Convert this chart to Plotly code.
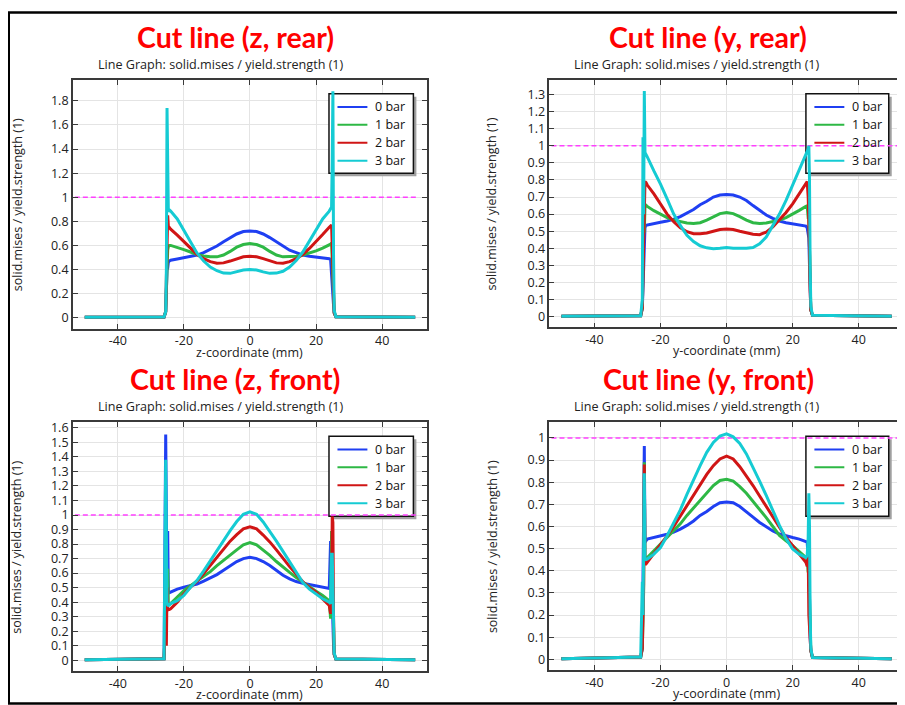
import plotly.graph_objects as go

# page pixel positions below are measured on the 905x705 reference; the browser adds an 8px body margin
OFF = 8
W, H = 905 - OFF, 705 - OFF

# ---------------- data ----------------
X = [-50, -26, -25.5, -25.3, -25.1, -24.9, -24.7, -24.4, -24, -22, -20, -18, -16, -14, -12, -10,
     -8, -6, -4, -2, 0, 2, 4, 6, 8, 10, 12, 14, 16, 18, 20, 22, 24, 24.4, 24.7, 24.9, 25.1, 25.3,
     25.5, 26, 50]

SERIES = ["0 bar", "1 bar", "2 bar", "3 bar"]

# Cut line (z, rear)
zr_0 = [0.003, 0.006, 0.05, 0.25, 0.40, 0.41, 0.46, 0.47, 0.477, 0.487, 0.50, 0.51, 0.52, 0.54, 0.565, 0.595,
        0.63, 0.665, 0.695, 0.715, 0.72, 0.715, 0.695, 0.665, 0.63, 0.59, 0.56, 0.54, 0.52, 0.51, 0.505, 0.497,
        0.49, 0.485, 0.32, 0.32, 0.2, 0.1, 0.04, 0.008, 0.003]
zr_1 = [0.003, 0.006, 0.05, 0.3, 0.55, 0.56, 0.59, 0.60, 0.60, 0.585, 0.565, 0.545, 0.525, 0.512, 0.505, 0.505,
        0.52, 0.55, 0.585, 0.607, 0.615, 0.607, 0.585, 0.55, 0.52, 0.505, 0.505, 0.51, 0.52, 0.535, 0.555, 0.578,
        0.60, 0.61, 0.62, 0.50, 0.35, 0.15, 0.04, 0.008, 0.003]
zr_2 = [0.003, 0.006, 0.05, 0.3, 0.6, 0.85, 0.76, 0.745, 0.735, 0.685, 0.63, 0.575, 0.525, 0.49, 0.465, 0.452,
        0.455, 0.47, 0.49, 0.505, 0.51, 0.505, 0.49, 0.47, 0.455, 0.452, 0.465, 0.49, 0.525, 0.575, 0.63, 0.69,
        0.75, 0.765, 0.77, 0.6, 0.4, 0.15, 0.04, 0.008, 0.003]
zr_3 = [0.003, 0.006, 0.05, 0.4, 1.74, 0.95, 0.88, 0.895, 0.885, 0.82, 0.725, 0.63, 0.535, 0.47, 0.42, 0.39,
        0.37, 0.368, 0.38, 0.395, 0.40, 0.395, 0.38, 0.368, 0.37, 0.385, 0.42, 0.475, 0.545, 0.64, 0.73, 0.82,
        0.885, 0.90, 0.92, 1.3, 1.88, 0.5, 0.06, 0.008, 0.003]

# Cut line (y, rear)
yr_0 = [0.003, 0.006, 0.05, 0.2, 0.35, 0.37, 0.52, 0.535, 0.537, 0.545, 0.553, 0.56, 0.57, 0.585, 0.605, 0.627,
        0.655, 0.675, 0.70, 0.712, 0.715, 0.712, 0.70, 0.68, 0.65, 0.62, 0.595, 0.575, 0.56, 0.55, 0.543, 0.537,
        0.53, 0.52, 0.47, 0.46, 0.3, 0.1, 0.04, 0.008, 0.003]
yr_1 = [0.003, 0.006, 0.05, 0.3, 0.5, 0.5, 0.64, 0.652, 0.645, 0.62, 0.60, 0.58, 0.565, 0.555, 0.548, 0.545,
        0.55, 0.565, 0.585, 0.603, 0.61, 0.603, 0.585, 0.565, 0.55, 0.545, 0.548, 0.555, 0.565, 0.58, 0.60, 0.622,
        0.645, 0.648, 0.58, 0.58, 0.4, 0.15, 0.04, 0.008, 0.003]
yr_2 = [0.003, 0.006, 0.05, 0.3, 0.5, 0.62, 0.79, 0.785, 0.77, 0.718, 0.655, 0.60, 0.555, 0.52, 0.497, 0.485,
        0.485, 0.49, 0.50, 0.51, 0.513, 0.51, 0.50, 0.49, 0.482, 0.48, 0.495, 0.525, 0.565, 0.61, 0.66, 0.718,
        0.78, 0.79, 0.7, 0.6, 0.4, 0.15, 0.04, 0.008, 0.003]
yr_3 = [0.003, 0.006, 0.1, 1.05, 0.6, 1.32, 0.96, 0.95, 0.935, 0.853, 0.776, 0.689, 0.60, 0.534, 0.476, 0.44,
        0.415, 0.403, 0.398, 0.40, 0.405, 0.40, 0.398, 0.40, 0.405, 0.427, 0.466, 0.53, 0.60, 0.68, 0.767, 0.853,
        0.94, 0.96, 0.98, 1.0, 0.8, 0.3, 0.06, 0.008, 0.003]

# Cut line (z, front)
zf_0 = [0.003, 0.01, 1.555, 0.5, 0.46, 0.89, 0.47, 0.465, 0.47, 0.49, 0.503, 0.515, 0.525, 0.545, 0.565, 0.59,
        0.62, 0.65, 0.68, 0.70, 0.709, 0.70, 0.68, 0.652, 0.62, 0.585, 0.56, 0.542, 0.53, 0.52, 0.512, 0.503,
        0.495, 0.82, 0.5, 0.45, 0.3, 0.1, 0.04, 0.008, 0.003]
zf_1 = [0.003, 0.01, 0.3, 0.35, 0.5, 0.63, 0.40, 0.385, 0.39, 0.434, 0.48, 0.514, 0.545, 0.575, 0.61, 0.652,
        0.69, 0.725, 0.76, 0.795, 0.81, 0.795, 0.76, 0.722, 0.68, 0.64, 0.605, 0.57, 0.537, 0.505, 0.476, 0.446,
        0.41, 0.286, 0.89, 0.6, 0.4, 0.15, 0.04, 0.008, 0.003]
zf_2 = [0.003, 0.01, 0.3, 0.10, 0.5, 0.343, 0.35, 0.35, 0.354, 0.40, 0.457, 0.503, 0.545, 0.597, 0.653, 0.709,
        0.765, 0.82, 0.865, 0.905, 0.919, 0.905, 0.862, 0.815, 0.76, 0.70, 0.645, 0.593, 0.54, 0.50, 0.469, 0.423,
        0.377, 0.32, 0.35, 0.99, 0.95, 0.3, 0.04, 0.008, 0.003]
zf_3 = [0.003, 0.01, 1.38, 0.5, 0.4, 0.38, 0.377, 0.38, 0.39, 0.41, 0.446, 0.503, 0.55, 0.615, 0.685, 0.754,
        0.823, 0.893, 0.955, 1.005, 1.022, 1.005, 0.952, 0.888, 0.82, 0.75, 0.68, 0.605, 0.535, 0.49, 0.457, 0.423,
        0.40, 0.39, 0.73, 0.73, 0.5, 0.2, 0.05, 0.008, 0.003]

# Cut line (y, front)
yf_0 = [0.003, 0.01, 0.05, 0.35, 0.45, 0.963, 0.54, 0.535, 0.543, 0.55, 0.555, 0.565, 0.575, 0.588, 0.605, 0.625,
        0.65, 0.668, 0.69, 0.707, 0.711, 0.707, 0.69, 0.668, 0.642, 0.618, 0.598, 0.58, 0.566, 0.557, 0.55, 0.543,
        0.535, 0.53, 0.45, 0.4, 0.3, 0.1, 0.04, 0.008, 0.003]
yf_1 = [0.003, 0.01, 0.05, 0.3, 0.31, 0.89, 0.46, 0.455, 0.46, 0.49, 0.52, 0.55, 0.578, 0.612, 0.65, 0.685,
        0.72, 0.755, 0.785, 0.808, 0.813, 0.805, 0.78, 0.75, 0.715, 0.678, 0.64, 0.60, 0.56, 0.535, 0.513, 0.486,
        0.46, 0.45, 0.393, 0.4, 0.3, 0.1, 0.04, 0.008, 0.003]
yf_2 = [0.003, 0.01, 0.05, 0.3, 0.34, 0.88, 0.43, 0.43, 0.438, 0.475, 0.513, 0.558, 0.60, 0.648, 0.697, 0.745,
        0.79, 0.835, 0.875, 0.905, 0.918, 0.905, 0.87, 0.83, 0.785, 0.738, 0.69, 0.64, 0.595, 0.55, 0.513, 0.475,
        0.438, 0.42, 0.48, 0.2, 0.15, 0.1, 0.04, 0.008, 0.003]
yf_3 = [0.003, 0.01, 0.35, 0.2, 0.5, 0.84, 0.45, 0.45, 0.453, 0.475, 0.505, 0.558, 0.615, 0.675, 0.745, 0.813,
        0.875, 0.935, 0.98, 1.008, 1.018, 1.005, 0.975, 0.928, 0.868, 0.805, 0.74, 0.67, 0.605, 0.545, 0.498, 0.475,
        0.46, 0.47, 0.55, 0.75, 0.6, 0.2, 0.05, 0.008, 0.003]

LIMIT_Y = [1, 1]
LIMIT_X_LEFT = [-53, 50.5]
LIMIT_X_RIGHT = [-53, 54]

X_TICKS = [-40, -20, 0, 20, 40]
Y_TICKS_ZR = [0, 0.2, 0.4, 0.6, 0.8, 1, 1.2, 1.4, 1.6, 1.8]
Y_TICKS_YR = [0, 0.1, 0.2, 0.3, 0.4, 0.5, 0.6, 0.7, 0.8, 0.9, 1, 1.1, 1.2, 1.3]
Y_TICKS_ZF = [0, 0.1, 0.2, 0.3, 0.4, 0.5, 0.6, 0.7, 0.8, 0.9, 1, 1.1, 1.2, 1.3, 1.4, 1.5, 1.6]
Y_TICKS_YF = [0, 0.1, 0.2, 0.3, 0.4, 0.5, 0.6, 0.7, 0.8, 0.9, 1]

PANEL_TITLES = ["Cut line (z, rear)", "Cut line (y, rear)", "Cut line (z, front)", "Cut line (y, front)"]
SUBTITLE = "Line Graph: solid.mises / yield.strength (1)"
X_TITLES = ["z-coordinate (mm)", "y-coordinate (mm)", "z-coordinate (mm)", "y-coordinate (mm)"]
Y_TITLE = "solid.mises / yield.strength (1)"

# ---------------- style ----------------
COLORS = ["#1f3ff2", "#2eb845", "#d01515", "#15cbd3"]
FONT = "Open Sans"
FS = 12.5


def px_x(p):
    return (p - OFF) / W


def px_y(p):
    return 1 - (p - OFF) / H


panels = [
    dict(data=[zr_0, zr_1, zr_2, zr_3], yticks=Y_TICKS_ZR, xr=[-53.6, 53.6], yr=[-0.091, 1.976],
         dom_x=[73, 428], dom_y=[77, 327], limx=LIMIT_X_LEFT, title_xy=(236, 34.5), sub_xy=(221.5, 61.5),
         ytitle_x=17, leg=(329.7, 91, 414.3, 171)),
    dict(data=[yr_0, yr_1, yr_2, yr_3], yticks=Y_TICKS_YR, xr=[-53.6, 53.4], yr=[-0.062, 1.386],
         dom_x=[550.7, 905], dom_y=[77, 325.7], limx=LIMIT_X_RIGHT, title_xy=(710, 34.5), sub_xy=(698.5, 61.5),
         ytitle_x=493, leg=(807.7, 91, 890.7, 171)),
    dict(data=[zf_0, zf_1, zf_2, zf_3], yticks=Y_TICKS_ZF, xr=[-53.6, 53.6], yr=[-0.075, 1.639],
         dom_x=[73, 428], dom_y=[421, 671], limx=LIMIT_X_LEFT, title_xy=(235.5, 377.5), sub_xy=(221, 405.5),
         ytitle_x=17, leg=(329.7, 435, 414.3, 515.5)),
    dict(data=[yf_0, yf_1, yf_2, yf_3], yticks=Y_TICKS_YF, xr=[-53.6, 53.4], yr=[-0.049, 1.071],
         dom_x=[550.7, 905], dom_y=[421, 670], limx=LIMIT_X_RIGHT, title_xy=(710, 377.5), sub_xy=(698.5, 405.5),
         ytitle_x=493, leg=(807.7, 435, 890.7, 515.5)),
]

fig = go.Figure()
annotations = []
shapes = []
layout = {}

for i, p in enumerate(panels):
    n = "" if i == 0 else str(i + 1)
    xa, ya = "x" + n, "y" + n
    x0p, x1p = p["dom_x"]
    y0p, y1p = p["dom_y"]
    xr0, xr1 = p["xr"]
    yr0, yr1 = p["yr"]

    # pixel -> data coordinates of this subplot (for the legend frame drawn under the curves)
    def dx(px, x0p=x0p, x1p=x1p, xr0=xr0, xr1=xr1):
        return xr0 + (px - x0p) / (x1p - x0p) * (xr1 - xr0)

    def dy(py, y0p=y0p, y1p=y1p, yr0=yr0, yr1=yr1):
        return yr0 + (y1p - py) / (y1p - y0p) * (yr1 - yr0)

    lx0, ly0, lx1, ly1 = p["leg"]
    shapes.append(dict(type="rect", xref=xa, yref=ya, layer="between",
                       x0=dx(lx0 + 3), x1=dx(lx1 + 3), y0=dy(ly1 + 3), y1=dy(ly0 + 3),
                       fillcolor="#a0a0a0", line=dict(width=0)))
    shapes.append(dict(type="rect", xref=xa, yref=ya, layer="between",
                       x0=dx(lx0), x1=dx(lx1), y0=dy(ly1), y1=dy(ly0),
                       fillcolor="white", line=dict(color="#111", width=1.5)))
    for k, name in enumerate(SERIES):
        ry = ly0 + 13.3 + 18 * k
        shapes.append(dict(type="line", xref=xa, yref=ya, layer="between",
                           x0=dx(lx0 + 8.5), x1=dx(lx0 + 38.5), y0=dy(ry), y1=dy(ry),
                           line=dict(color=COLORS[k], width=2)))
        annotations.append(dict(text=name, x=px_x(lx0 + 44.5), y=px_y(ry), xref="paper", yref="paper",
                                showarrow=False, xanchor="left", yanchor="middle",
                                font=dict(family=FONT, size=FS, color="#111")))

    # limit line
    fig.add_trace(go.Scatter(x=p["limx"], y=LIMIT_Y, mode="lines", xaxis=xa, yaxis=ya,
                             line=dict(color="#ff40ff", width=1.5, dash="5px,3px"),
                             showlegend=False, hoverinfo="skip"))
    for k, name in enumerate(SERIES):
        fig.add_trace(go.Scatter(x=X, y=p["data"][k], mode="lines", xaxis=xa, yaxis=ya, name=name,
                                 line=dict(color=COLORS[k], width=3), showlegend=False))

    axis_common = dict(showline=True, linecolor="#3a3a3a", linewidth=1.6, mirror="ticks",
                       ticks="inside", ticklen=5, tickwidth=1.2, tickcolor="#3a3a3a",
                       showgrid=True, gridcolor="#e4e4e4", gridwidth=1, zeroline=False,
                       tickfont=dict(family=FONT, size=FS, color="#222"), fixedrange=True)
    layout["xaxis" + n] = dict(axis_common, domain=[px_x(x0p), min(1.0, px_x(x1p))],
                               range=p["xr"], anchor=ya, tickvals=X_TICKS,
                               ticktext=[f"{v:g}" for v in X_TICKS])
    layout["yaxis" + n] = dict(axis_common, domain=[px_y(y1p), px_y(y0p)],
                               range=p["yr"], anchor=xa, tickvals=p["yticks"],
                               ticktext=[f"{v:g}" for v in p["yticks"]])

    cx = (x0p + x1p) / 2
    if i % 2 == 1:
        cx = (x0p + 905.7) / 2
    cy = (y0p + y1p) / 2
    annotations += [
        dict(text=PANEL_TITLES[i], x=px_x(p["title_xy"][0]), y=px_y(p["title_xy"][1]), xref="paper",
             yref="paper", showarrow=False, xanchor="center", yanchor="middle",
             font=dict(family="Lato", size=28.5, color="#ff0000", weight=700)),
        dict(text=SUBTITLE, x=px_x(p["sub_xy"][0]), y=px_y(p["sub_xy"][1]), xref="paper", yref="paper",
             showarrow=False, xanchor="center", yanchor="middle",
             font=dict(family=FONT, size=12.6, color="#222")),
        dict(text=X_TITLES[i], x=px_x(cx), y=px_y(y1p + 23.5), xref="paper", yref="paper",
             showarrow=False, xanchor="center", yanchor="middle",
             font=dict(family=FONT, size=FS, color="#222")),
        dict(text=Y_TITLE, x=px_x(p["ytitle_x"]), y=px_y(cy), xref="paper", yref="paper",
             showarrow=False, xanchor="center", yanchor="middle", textangle=-90,
             font=dict(family=FONT, size=FS, color="#222")),
    ]

# outer frame
shapes.append(dict(type="rect", xref="paper", yref="paper", x0=px_x(8.7), x1=1.05,
                   y0=px_y(703.5), y1=px_y(9.5), line=dict(color="black", width=2.6)))

fig.update_layout(width=W, height=H, margin=dict(l=0, r=0, t=0, b=0),
                  paper_bgcolor="white", plot_bgcolor="white", showlegend=False,
                  annotations=annotations, shapes=shapes, **layout)

fig.write_html("out.html")
